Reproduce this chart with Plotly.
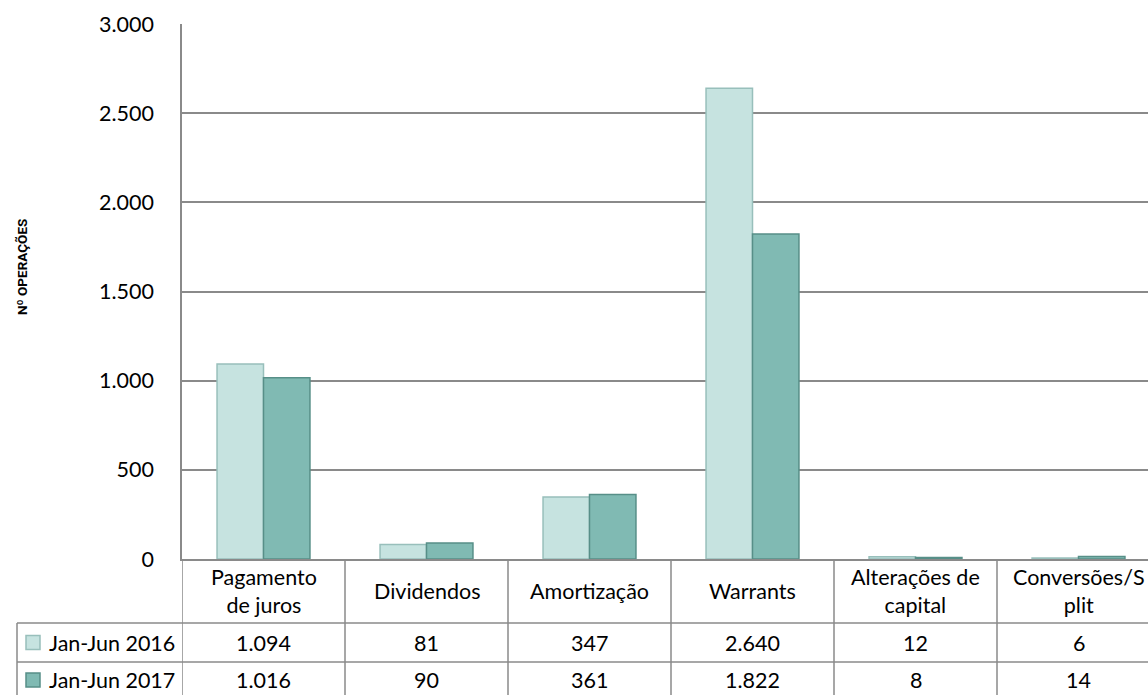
import plotly.graph_objects as go

categories = ["Pagamento<br>de juros", "Dividendos", "Amortização", "Warrants",
              "Alterações de<br>capital", "Conversões/S<br>plit"]
series_names = ["Jan-Jun 2016", "Jan-Jun 2017"]
values_2016 = [1094, 81, 347, 2640, 12, 6]
values_2017 = [1016, 90, 361, 1822, 8, 14]
y_ticks = [0, 500, 1000, 1500, 2000, 2500, 3000]
y_title = "Nº OPERAÇÕES"

W, H = 1148, 695
L, R, T, B = 182, 0, 24, 136
PW = W - L - R
PH = H - T - B

FONT = "Lato"
FS = 21.5
GRID = "#8a8a8a"
fill_colors = ["#c6e3e0", "#80bab3"]
line_colors = ["#98bfbb", "#578f88"]

def py(px):  # pixel y -> paper y
    return (H - B - px) / PH

def pxx(px):  # pixel x -> paper x
    return (px - L) / PW

xs = list(range(len(categories)))
cat_w = 163.0
x_max = -0.5 + PW / cat_w

fig = go.Figure()
for name, vals, fc, lc in zip(series_names, [values_2016, values_2017], fill_colors, line_colors):
    fig.add_trace(go.Bar(x=xs, y=vals, name=name,
                         marker=dict(color=fc, line=dict(color=lc, width=1.5)),
                         showlegend=False))

shapes = []
annotations = []

y_head = py(623)
y_r1 = py(662)
y_bot = py(702)
line_style = dict(color=GRID, width=1.5)

for i in range(len(categories) + 1):
    shapes.append(dict(type="line", xref="x", yref="paper", x0=i - 0.5, x1=i - 0.5,
                       y0=0, y1=y_bot, line=line_style))
shapes.append(dict(type="line", xref="paper", yref="paper", x0=pxx(17), x1=pxx(17),
                   y0=y_head, y1=y_bot, line=line_style))
for yy in [y_head, y_r1, y_bot]:
    shapes.append(dict(type="line", xref="paper", yref="paper", x0=pxx(17), x1=1.0,
                       y0=yy, y1=yy, line=line_style))

for i, c in enumerate(categories):
    annotations.append(dict(x=i, y=(0 + y_head) / 2, xref="x", yref="paper", text=c,
                            showarrow=False, xanchor="center", yanchor="middle",
                            font=dict(family=FONT, size=FS, color="black")))
row_centers = [(y_head + y_r1) / 2, py(680)]
for r, (name, vals) in enumerate(zip(series_names, [values_2016, values_2017])):
    yc = row_centers[r]
    for i, v in enumerate(vals):
        txt = f"{v:,}".replace(",", ".")
        annotations.append(dict(x=i, y=yc, xref="x", yref="paper", text=txt,
                                showarrow=False, xanchor="center", yanchor="middle",
                                font=dict(family=FONT, size=FS, color="black")))
    annotations.append(dict(x=pxx(47), y=yc, xref="paper", yref="paper", text=name,
                            showarrow=False, xanchor="left", yanchor="middle",
                            font=dict(family=FONT, size=FS, color="black")))
    half = 7 / PH
    shapes.append(dict(type="rect", xref="paper", yref="paper",
                       x0=pxx(26), x1=pxx(40), y0=yc - half, y1=yc + half,
                       fillcolor=fill_colors[r], line=dict(color=line_colors[r], width=1.5)))

annotations.append(dict(x=pxx(22), y=py(267), xref="paper", yref="paper", text=y_title,
                        showarrow=False, textangle=-90, xanchor="center", yanchor="middle",
                        font=dict(family="Roboto", size=13.5, color="black", weight="bold")))

fig.update_layout(
    width=W, height=H,
    margin=dict(l=L, r=R, t=T, b=B, autoexpand=False),
    paper_bgcolor="white", plot_bgcolor="white",
    separators=",.",
    barmode="group", bargap=0.43, bargroupgap=0,
    shapes=shapes, annotations=annotations,
    font=dict(family=FONT, size=FS, color="black"),
    xaxis=dict(range=[-0.5, x_max], showticklabels=False, showgrid=False,
               zeroline=False, showline=True, linecolor=GRID, linewidth=1.5),
    yaxis=dict(range=[0, 3000], tickvals=y_ticks, tickformat=",d",
               showgrid=True, gridcolor=GRID, gridwidth=1.5,
               showline=True, linecolor=GRID, linewidth=1.5, zeroline=False,
               ticks="", ticklabelstandoff=22,
               tickfont=dict(family=FONT, size=FS, color="black")),
)

fig.write_html("out.html", config={"displayModeBar": False},
               post_script="document.body.style.margin='0';document.body.style.overflow='hidden';")
